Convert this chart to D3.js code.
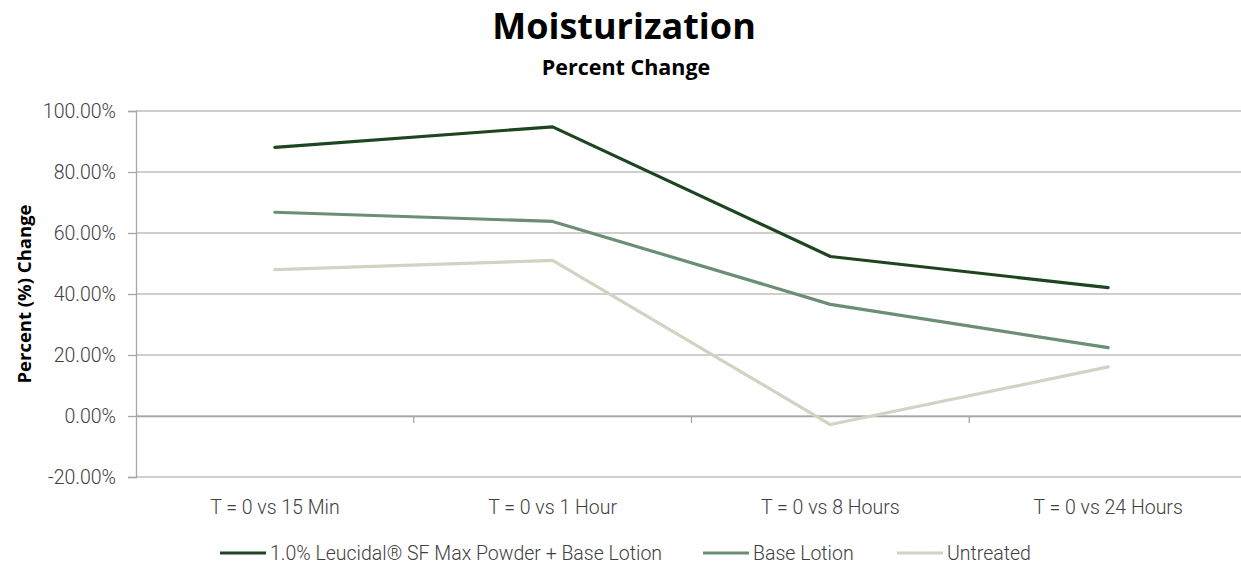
<!DOCTYPE html>
<html>
<head>
<meta charset="utf-8">
<script src="https://cdn.jsdelivr.net/npm/d3@7"></script>
<style>
body{margin:0;background:#fff;}
svg{display:block;}
</style>
</head>
<body>
<script>
const categories=["T = 0 vs 15 Min","T = 0 vs 1 Hour","T = 0 vs 8 Hours","T = 0 vs 24 Hours"]
const seriesNames=["1.0% Leucidal® SF Max Powder + Base Lotion","Base Lotion","Untreated"]
const leucidal=[88.1,94.8,52.3,42.1]
const baseLotion=[66.8,63.8,36.6,22.4]
const untreated=[48.0,51.0,-2.8,16.1]
const yTicks=[-20,0,20,40,60,80,100]
const colors=["#1d4521","#6b8f72","#d3d3c3"]

const W=1241,H=565,
plotLeft=136,plotRight=1247,plotTop=111,plotBottom=477,
tickFont="Roboto",boldFont="Open Sans"

const svg=d3.select("body").append("svg")
 .attr("width",W).attr("height",H)

const x=d3.scaleBand().domain(categories).range([plotLeft,plotRight])
const y=d3.scaleLinear().domain([-20,100]).range([plotBottom,plotTop])
const pct=d=>d3.format(".2f")(d).replace("−","-")+"%"

// grid
svg.append("g").selectAll("line")
 .data(yTicks).enter().append("line")
 .attr("x1",plotLeft).attr("x2",plotRight)
 .attr("y1",d=>y(d)).attr("y2",d=>y(d))
 .attr("stroke","#bfbfbf").attr("stroke-width",1.3)

// y axis
const yAxis=svg.append("g").attr("transform",`translate(${plotLeft},0)`)
 .call(d3.axisLeft(y).tickValues(yTicks).tickSize(8).tickPadding(12).tickFormat(pct))
yAxis.select(".domain").attr("stroke","#a6a6a6").attr("stroke-width",1.3)
yAxis.selectAll(".tick line").attr("stroke","#a6a6a6").attr("stroke-width",1.3)
yAxis.selectAll("text").attr("font-family",tickFont).attr("font-weight",300)
 .attr("font-size",19.5).attr("fill","#404040")

// x axis on zero line
const xAxis=svg.append("g").attr("transform",`translate(0,${y(0)})`)
 .call(d3.axisBottom(x).tickSize(0).tickFormat(""))
xAxis.select(".domain").attr("stroke","#a6a6a6").attr("stroke-width",1.3)
svg.append("g").selectAll("line")
 .data(categories.slice(1)).enter().append("line")
 .attr("x1",d=>x(d)).attr("x2",d=>x(d))
 .attr("y1",y(0)).attr("y2",y(0)+7)
 .attr("stroke","#a6a6a6").attr("stroke-width",1.3)

svg.append("g").selectAll("text")
 .data(categories).enter().append("text")
 .attr("x",d=>x(d)+x.bandwidth()/2)
 .attr("y",514)
 .attr("text-anchor","middle")
 .attr("font-family",tickFont).attr("font-weight",300)
 .attr("font-size",19.5).attr("fill","#404040")
 .text(d=>d)

// lines
const allSeries=[leucidal,baseLotion,untreated]
const line=d3.line()
 .x((d,i)=>x(categories[i])+x.bandwidth()/2)
 .y(d=>y(d))

svg.append("g").selectAll("path")
 .data(allSeries).enter().append("path")
 .attr("d",line)
 .attr("fill","none")
 .attr("stroke",(d,i)=>colors[i])
 .attr("stroke-width",3.2)
 .attr("stroke-linejoin","round")
 .attr("stroke-linecap","round")

// titles
svg.append("text")
 .attr("x",624).attr("y",39)
 .attr("text-anchor","middle")
 .attr("font-family",boldFont).attr("font-weight",700)
 .attr("font-size",36).attr("fill","#000")
 .text("Moisturization")

svg.append("text")
 .attr("x",626).attr("y",75)
 .attr("text-anchor","middle")
 .attr("font-family",boldFont).attr("font-weight",700)
 .attr("font-size",21.5).attr("fill","#000")
 .text("Percent Change")

svg.append("text")
 .attr("transform",`translate(31,${(plotTop+plotBottom)/2}) rotate(-90)`)
 .attr("text-anchor","middle")
 .attr("font-family",boldFont).attr("font-weight",700)
 .attr("font-size",18.5).attr("fill","#000")
 .text("Percent (%) Change")

// legend
const legendX=[220,703,897]
const legend=svg.append("g").selectAll("g")
 .data(seriesNames).enter().append("g")
 .attr("transform",(d,i)=>`translate(${legendX[i]},553)`)

legend.append("line")
 .attr("x1",0).attr("x2",46)
 .attr("stroke",(d,i)=>colors[i])
 .attr("stroke-width",3.2)

legend.append("text")
 .attr("x",50).attr("y",6.5)
 .attr("font-family",tickFont).attr("font-weight",300)
 .attr("font-size",19.5).attr("fill","#404040")
 .text(d=>d)
</script>
</body>
</html>
